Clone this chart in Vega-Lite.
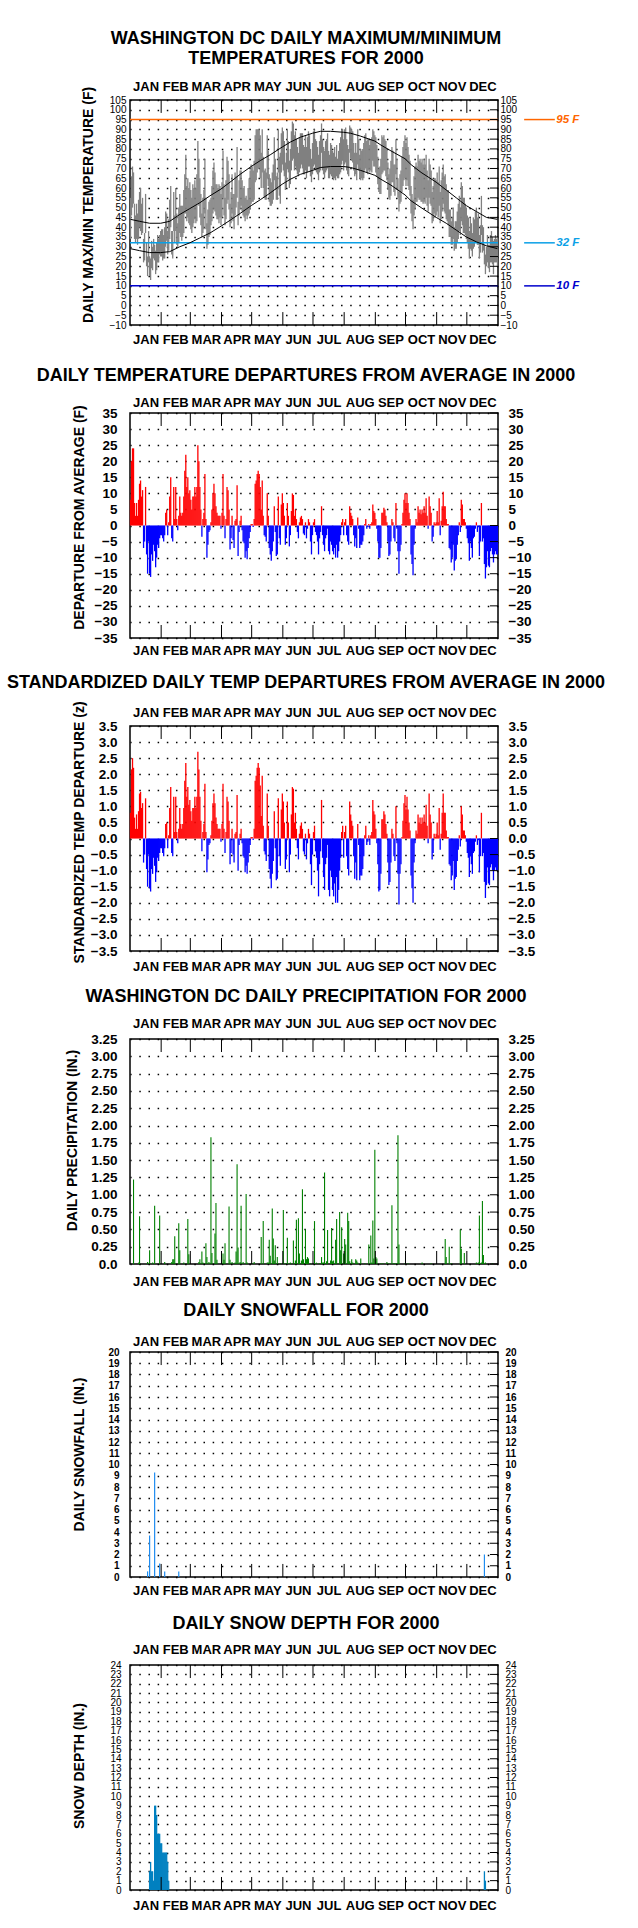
{
"$schema": "https://vega.github.io/schema/vega-lite/v6.json",
"background": "white",
"autosize": {"type": "pad"},
"padding": {"left": 5, "top": 29, "right": 0, "bottom": 0},
"config": {
  "view": {"stroke": "black", "strokeWidth": 1.5},
  "axis": {"ticks": false, "tickSize": 0, "domain": false, "labelFlush": false, "labelOverlap": false, "labelBound": false, "labelColor": "black", "titleColor": "black", "grid": false},
  "title": {"font": "Liberation Sans", "fontSize": 18, "fontWeight": "bold", "color": "black", "anchor": "middle", "frame": "group", "dx": -8}
},
"datasets": {
"m": [{"b":31.5},{"b":60.5},{"b":91.5},{"b":121.5},{"b":152.5},{"b":182.5},{"b":213.5},{"b":244.5},{"b":274.5},{"b":305.5},{"b":335.5}],
"ref": [{"v":95,"lab":"95 F"},{"v":32,"lab":"32 F"},{"v":10,"lab":"10 F"}],
"y1": [{"v":-10},{"v":-5},{"v":0},{"v":5},{"v":10},{"v":15},{"v":20},{"v":25},{"v":30},{"v":35},{"v":40},{"v":45},{"v":50},{"v":55},{"v":60},{"v":65},{"v":70},{"v":75},{"v":80},{"v":85},{"v":90},{"v":95},{"v":100},{"v":105}],
"y2": [{"v":-35},{"v":-30},{"v":-25},{"v":-20},{"v":-15},{"v":-10},{"v":-5},{"v":0},{"v":5},{"v":10},{"v":15},{"v":20},{"v":25},{"v":30},{"v":35}],
"y3": [{"v":-3.5},{"v":-3},{"v":-2.5},{"v":-2},{"v":-1.5},{"v":-1},{"v":-0.5},{"v":0},{"v":0.5},{"v":1},{"v":1.5},{"v":2},{"v":2.5},{"v":3},{"v":3.5}],
"y4": [{"v":0},{"v":0.25},{"v":0.5},{"v":0.75},{"v":1},{"v":1.25},{"v":1.5},{"v":1.75},{"v":2},{"v":2.25},{"v":2.5},{"v":2.75},{"v":3},{"v":3.25}],
"y5": [{"v":0},{"v":1},{"v":2},{"v":3},{"v":4},{"v":5},{"v":6},{"v":7},{"v":8},{"v":9},{"v":10},{"v":11},{"v":12},{"v":13},{"v":14},{"v":15},{"v":16},{"v":17},{"v":18},{"v":19},{"v":20}],
"y6": [{"v":0},{"v":1},{"v":2},{"v":3},{"v":4},{"v":5},{"v":6},{"v":7},{"v":8},{"v":9},{"v":10},{"v":11},{"v":12},{"v":13},{"v":14},{"v":15},{"v":16},{"v":17},{"v":18},{"v":19},{"v":20},{"v":21},{"v":22},{"v":23},{"v":24}],
"n": [{"d":1,"nh":44,"nl":29},{"d":10,"nh":43,"nl":28},{"d":20,"nh":42,"nl":27},{"d":31,"nh":42,"nl":27},{"d":40,"nh":43,"nl":27.5},{"d":50,"nh":46.5,"nl":30},{"d":60,"nh":49.5,"nl":32},{"d":70,"nh":52.5,"nl":34.5},{"d":80,"nh":56,"nl":37},{"d":91,"nh":59.5,"nl":40.5},{"d":100,"nh":63,"nl":43.5},{"d":110,"nh":67,"nl":47},{"d":121,"nh":71,"nl":51},{"d":130,"nh":74,"nl":54},{"d":140,"nh":77,"nl":57.5},{"d":152,"nh":81,"nl":62},{"d":160,"nh":83.5,"nl":64.5},{"d":170,"nh":86,"nl":67},{"d":182,"nh":88,"nl":69},{"d":190,"nh":89,"nl":70.5},{"d":200,"nh":89,"nl":71},{"d":213,"nh":88.5,"nl":71},{"d":220,"nh":88,"nl":70.5},{"d":230,"nh":86.5,"nl":69},{"d":244,"nh":84,"nl":66.5},{"d":250,"nh":82,"nl":64.5},{"d":260,"nh":79,"nl":61.5},{"d":274,"nh":75,"nl":56.5},{"d":280,"nh":72,"nl":53.5},{"d":290,"nh":68,"nl":50},{"d":305,"nh":63,"nl":45},{"d":315,"nh":59,"nl":42},{"d":325,"nh":55,"nl":38.5},{"d":335,"nh":51,"nl":35},{"d":345,"nh":48,"nl":32.5},{"d":355,"nh":45,"nl":30.5},{"d":366,"nh":44,"nl":29}],
"t": [
{"d":1,"h":55,"l":34,"dp":8,"z":0.8},{"d":2,"h":66,"l":46,"dp":20,"z":2.15},{"d":3,"h":71,"l":50,"dp":24,"z":2.5},{"d":4,"h":68,"l":52,"dp":24,"z":2.2},{"d":5,"h":52,"l":34,"dp":7,"z":0.65},{"d":6,"h":46,"l":32,"dp":3,"z":0.3},{"d":7,"h":52,"l":34,"dp":7,"z":0.75},{"d":8,"h":47,"l":31,"dp":3,"z":0.3},{"d":9,"h":54,"l":34,"dp":8,"z":0.85},{"d":10,"h":58,"l":40,"dp":13,"z":1.4},
{"d":11,"h":60,"l":38,"dp":14,"z":1.45},{"d":12,"h":52,"l":36,"dp":9,"z":0.95},{"d":13,"h":55,"l":37,"dp":11,"z":1.1},{"d":14,"h":34,"l":22,"dp":-7,"z":-0.75},{"d":15,"h":37,"l":23,"dp":-5,"z":-0.5},{"d":16,"h":57,"l":37,"dp":12,"z":1.25},{"d":17,"h":32,"l":20,"dp":-9,"z":-0.95},{"d":18,"h":25,"l":15,"dp":-15,"z":-1.5},{"d":19,"h":38,"l":22,"dp":-5,"z":-0.5},{"d":20,"h":25,"l":15,"dp":-15,"z":-1.55},
{"d":21,"h":24,"l":13,"dp":-16,"z":-1.65},{"d":22,"h":33,"l":19,"dp":-9,"z":-0.95},{"d":23,"h":30,"l":18,"dp":-11,"z":-1.1},{"d":24,"h":34,"l":24,"dp":-6,"z":-0.6},{"d":25,"h":31,"l":23,"dp":-8,"z":-0.85},{"d":26,"h":28,"l":16,"dp":-13,"z":-1.35},{"d":27,"h":32,"l":18,"dp":-10,"z":-1.05},{"d":28,"h":36,"l":22,"dp":-6,"z":-0.6},{"d":29,"h":34,"l":22,"dp":-7,"z":-0.7},{"d":30,"h":36,"l":26,"dp":-4,"z":-0.45},
{"d":31,"h":38,"l":25,"dp":-3,"z":-0.3},{"d":32,"h":39,"l":25,"dp":-3,"z":-0.3},{"d":33,"h":39,"l":23,"dp":-4,"z":-0.45},{"d":34,"h":36,"l":24,"dp":-5,"z":-0.55},{"d":35,"h":40,"l":24,"dp":-3,"z":-0.3},{"d":36,"h":48,"l":30,"dp":4,"z":0.45},{"d":37,"h":47,"l":33,"dp":5,"z":0.5},{"d":38,"h":38,"l":26,"dp":-3,"z":-0.3},{"d":39,"h":44,"l":28,"dp":1,"z":0.1},{"d":40,"h":54,"l":34,"dp":9,"z":0.95},
{"d":41,"h":61,"l":40,"dp":15,"z":1.6},{"d":42,"h":38,"l":26,"dp":-4,"z":-0.45},{"d":43,"h":38,"l":24,"dp":-5,"z":-0.55},{"d":44,"h":58,"l":38,"dp":12,"z":1.3},{"d":45,"h":46,"l":32,"dp":2,"z":0.2},{"d":46,"h":60,"l":38,"dp":12,"z":1.3},{"d":47,"h":47,"l":31,"dp":2,"z":0.2},{"d":48,"h":42,"l":30,"dp":-1.5,"z":-0.15},{"d":49,"h":50,"l":32,"dp":3,"z":0.3},{"d":50,"h":57,"l":37,"dp":9,"z":0.95},
{"d":51,"h":51,"l":35,"dp":4,"z":0.45},{"d":52,"h":51,"l":33,"dp":3,"z":0.3},{"d":53,"h":51,"l":35,"dp":4,"z":0.45},{"d":54,"h":59,"l":37,"dp":9,"z":0.95},{"d":55,"h":67,"l":47,"dp":17,"z":1.8},{"d":56,"h":77,"l":47,"dp":22,"z":2.35},{"d":57,"h":61,"l":43,"dp":12,"z":1.3},{"d":58,"h":65,"l":45,"dp":15,"z":1.6},{"d":59,"h":60,"l":42,"dp":10,"z":1.05},{"d":60,"h":63,"l":41,"dp":11,"z":1.2},
{"d":61,"h":59,"l":39,"dp":8,"z":0.85},{"d":62,"h":55,"l":37,"dp":5,"z":0.55},{"d":63,"h":62,"l":40,"dp":9,"z":0.95},{"d":64,"h":60,"l":42,"dp":9,"z":0.95},{"d":65,"h":64,"l":44,"dp":12,"z":1.3},{"d":66,"h":60,"l":42,"dp":9,"z":0.95},{"d":67,"h":67,"l":43,"dp":12,"z":1.3},{"d":68,"h":84,"l":52,"dp":25,"z":2.7},{"d":69,"h":75,"l":51,"dp":20,"z":2.15},{"d":70,"h":65,"l":45,"dp":12,"z":1.3},
{"d":71,"h":57,"l":41,"dp":5,"z":0.55},{"d":72,"h":47,"l":35,"dp":-3.5,"z":-0.4},{"d":73,"h":55,"l":37,"dp":2,"z":0.2},{"d":74,"h":59,"l":39,"dp":4,"z":0.45},{"d":75,"h":75,"l":47,"dp":16,"z":1.7},{"d":76,"h":55,"l":39,"dp":2,"z":0.2},{"d":77,"h":42,"l":29,"dp":-10,"z":-1.05},{"d":78,"h":49,"l":31,"dp":-6,"z":-0.65},{"d":79,"h":53,"l":35,"dp":-2,"z":-0.2},{"d":80,"h":54,"l":36,"dp":-1.5,"z":-0.15},
{"d":81,"h":55,"l":41,"dp":1,"z":0.1},{"d":82,"h":61,"l":43,"dp":5,"z":0.55},{"d":83,"h":69,"l":47,"dp":10,"z":1.1},{"d":84,"h":73,"l":49,"dp":13,"z":1.4},{"d":85,"h":68,"l":48,"dp":10,"z":1.1},{"d":86,"h":62,"l":46,"dp":6,"z":0.65},{"d":87,"h":62,"l":44,"dp":4,"z":0.45},{"d":88,"h":60,"l":44,"dp":3,"z":0.3},{"d":89,"h":62,"l":42,"dp":3,"z":0.3},{"d":90,"h":61,"l":45,"dp":3,"z":0.3},
{"d":91,"h":57,"l":41,"dp":-1,"z":-0.1},{"d":92,"h":63,"l":45,"dp":4,"z":0.45},{"d":93,"h":79,"l":55,"dp":16,"z":1.7},{"d":94,"h":62,"l":46,"dp":3,"z":0.3},{"d":95,"h":55,"l":41,"dp":-4,"z":-0.45},{"d":96,"h":64,"l":44,"dp":2,"z":0.2},{"d":97,"h":76,"l":52,"dp":12,"z":1.3},{"d":98,"h":74,"l":54,"dp":11,"z":1.15},{"d":99,"h":67,"l":49,"dp":5,"z":0.55},{"d":100,"h":52,"l":40,"dp":-7.5,"z":-0.8},
{"d":101,"h":58,"l":42,"dp":-4,"z":-0.45},{"d":102,"h":67,"l":47,"dp":3,"z":0.3},{"d":103,"h":57,"l":43,"dp":-4.5,"z":-0.5},{"d":104,"h":57,"l":39,"dp":-7,"z":-0.75},{"d":105,"h":68,"l":46,"dp":1.5,"z":0.15},{"d":106,"h":66,"l":50,"dp":2,"z":0.2},{"d":107,"h":81,"l":55,"dp":12.5,"z":1.35},{"d":108,"h":53,"l":41,"dp":-9.5,"z":-1.0},{"d":109,"h":64,"l":46,"dp":-2,"z":-0.2},{"d":110,"h":69,"l":49,"dp":1.5,"z":0.15},
{"d":111,"h":69,"l":51,"dp":3,"z":0.3},{"d":112,"h":64,"l":48,"dp":-1.5,"z":-0.15},{"d":113,"h":60,"l":46,"dp":-5,"z":-0.55},{"d":114,"h":61,"l":45,"dp":-5.5,"z":-0.6},{"d":115,"h":55,"l":43,"dp":-10,"z":-1.05},{"d":116,"h":56,"l":46,"dp":-8,"z":-0.85},{"d":117,"h":54,"l":44,"dp":-10.5,"z":-1.1},{"d":118,"h":60,"l":46,"dp":-7,"z":-0.75},{"d":119,"h":65,"l":47,"dp":-4,"z":-0.45},{"d":120,"h":69,"l":49,"dp":-2,"z":-0.2},
{"d":121,"h":72,"l":52,"dp":0.5,"z":0.05},{"d":122,"h":71,"l":53,"dp":0.5,"z":0.05},{"d":123,"h":69,"l":53,"dp":-0.5,"z":-0.05},{"d":124,"h":74,"l":54,"dp":2,"z":0.3},{"d":125,"h":87,"l":63,"dp":13,"z":1.8},{"d":126,"h":90,"l":64,"dp":14,"z":1.95},{"d":127,"h":90,"l":68,"dp":16,"z":2.2},{"d":128,"h":90,"l":70,"dp":17,"z":2.35},{"d":129,"h":90,"l":70,"dp":16,"z":2.2},{"d":130,"h":87,"l":65,"dp":12,"z":1.65},
{"d":131,"h":78,"l":60,"dp":5,"z":0.7},{"d":132,"h":90,"l":68,"dp":14,"z":1.95},{"d":133,"h":76,"l":60,"dp":3,"z":0.4},{"d":134,"h":69,"l":55,"dp":-3,"z":-0.4},{"d":135,"h":70,"l":54,"dp":-3.5,"z":-0.5},{"d":136,"h":68,"l":54,"dp":-5,"z":-0.7},{"d":137,"h":87,"l":65,"dp":10,"z":1.4},{"d":138,"h":79,"l":61,"dp":3,"z":0.4},{"d":139,"h":67,"l":53,"dp":-7,"z":-0.95},{"d":140,"h":65,"l":51,"dp":-9,"z":-1.25},
{"d":141,"h":63,"l":51,"dp":-11,"z":-1.55},{"d":142,"h":68,"l":52,"dp":-8,"z":-1.1},{"d":143,"h":72,"l":54,"dp":-5,"z":-0.7},{"d":144,"h":86,"l":64,"dp":6,"z":0.85},{"d":145,"h":75,"l":59,"dp":-2,"z":-0.3},{"d":146,"h":66,"l":54,"dp":-9.5,"z":-1.3},{"d":147,"h":68,"l":54,"dp":-9,"z":-1.25},{"d":148,"h":90,"l":68,"dp":9,"z":1.25},{"d":149,"h":76,"l":56,"dp":-4,"z":-0.55},{"d":150,"h":78,"l":52,"dp":-6,"z":-0.85},
{"d":151,"h":88,"l":68,"dp":6.5,"z":0.9},{"d":152,"h":91,"l":72,"dp":10,"z":1.4},{"d":153,"h":89,"l":69,"dp":7,"z":1.15},{"d":154,"h":84,"l":66,"dp":3,"z":0.5},{"d":155,"h":73,"l":59,"dp":-6,"z":-0.95},{"d":156,"h":78,"l":60,"dp":-4,"z":-0.65},{"d":157,"h":90,"l":70,"dp":7,"z":1.15},{"d":158,"h":84,"l":68,"dp":3,"z":0.5},{"d":159,"h":74,"l":60,"dp":-6.5,"z":-1.05},{"d":160,"h":80,"l":62,"dp":-3,"z":-0.5},
{"d":161,"h":89,"l":69,"dp":4.5,"z":0.75},{"d":162,"h":94,"l":74,"dp":10,"z":1.6},{"d":163,"h":93,"l":75,"dp":9.5,"z":1.55},{"d":164,"h":87,"l":69,"dp":3,"z":0.5},{"d":165,"h":89,"l":71,"dp":5,"z":0.8},{"d":166,"h":85,"l":69,"dp":2,"z":0.3},{"d":167,"h":81,"l":67,"dp":-2,"z":-0.3},{"d":168,"h":78,"l":66,"dp":-4,"z":-0.65},{"d":169,"h":86,"l":68,"dp":1,"z":0.15},{"d":170,"h":88,"l":70,"dp":2.5,"z":0.4},
{"d":171,"h":88,"l":72,"dp":3,"z":0.5},{"d":172,"h":88,"l":70,"dp":2,"z":0.3},{"d":173,"h":82,"l":67,"dp":-2.5,"z":-0.4},{"d":174,"h":81,"l":67,"dp":-3,"z":-0.5},{"d":175,"h":87,"l":69,"dp":1,"z":0.15},{"d":176,"h":81,"l":65,"dp":-4,"z":-0.65},{"d":177,"h":86,"l":68,"dp":-1,"z":-0.15},{"d":178,"h":89,"l":71,"dp":2,"z":0.3},{"d":179,"h":87,"l":71,"dp":1,"z":0.15},{"d":180,"h":80,"l":66,"dp":-5,"z":-0.8},
{"d":181,"h":75,"l":63,"dp":-9,"z":-1.45},{"d":182,"h":83,"l":67,"dp":-3,"z":-0.5},{"d":183,"h":89,"l":71,"dp":1,"z":0.2},{"d":184,"h":90,"l":72,"dp":2,"z":0.4},{"d":185,"h":85,"l":69,"dp":-2,"z":-0.4},{"d":186,"h":84,"l":68,"dp":-3,"z":-0.6},{"d":187,"h":81,"l":67,"dp":-5,"z":-1.0},{"d":188,"h":77,"l":64,"dp":-9,"z":-1.8},{"d":189,"h":84,"l":68,"dp":-4,"z":-0.8},{"d":190,"h":87,"l":69,"dp":-2,"z":-0.4},
{"d":191,"h":93,"l":78,"dp":6,"z":1.2},{"d":192,"h":85,"l":69,"dp":-3,"z":-0.6},{"d":193,"h":81,"l":67,"dp":-6,"z":-1.2},{"d":194,"h":79,"l":65,"dp":-8,"z":-1.6},{"d":195,"h":84,"l":68,"dp":-4,"z":-0.8},{"d":196,"h":85,"l":69,"dp":-3,"z":-0.6},{"d":197,"h":88,"l":70,"dp":-1,"z":-0.2},{"d":198,"h":79,"l":65,"dp":-8,"z":-1.6},{"d":199,"h":77,"l":65,"dp":-9,"z":-1.8},{"d":200,"h":83,"l":67,"dp":-5,"z":-1.0},
{"d":201,"h":82,"l":66,"dp":-6,"z":-1.2},{"d":202,"h":79,"l":65,"dp":-8,"z":-1.6},{"d":203,"h":78,"l":64,"dp":-9,"z":-1.8},{"d":204,"h":81,"l":65,"dp":-7,"z":-1.4},{"d":205,"h":76,"l":64,"dp":-10,"z":-2.0},{"d":206,"h":82,"l":66,"dp":-6,"z":-1.2},{"d":207,"h":75,"l":65,"dp":-10,"z":-2.0},{"d":208,"h":79,"l":65,"dp":-8,"z":-1.6},{"d":209,"h":83,"l":67,"dp":-5,"z":-1.0},{"d":210,"h":86,"l":68,"dp":-3,"z":-0.6},
{"d":211,"h":90,"l":72,"dp":1,"z":0.2},{"d":212,"h":90,"l":74,"dp":2,"z":0.4},{"d":213,"h":85,"l":69,"dp":-3,"z":-0.6},{"d":214,"h":90,"l":72,"dp":1,"z":0.2},{"d":215,"h":91,"l":73,"dp":2,"z":0.4},{"d":216,"h":85,"l":69,"dp":-3,"z":-0.55},{"d":217,"h":82,"l":67,"dp":-5,"z":-0.95},{"d":218,"h":80,"l":66,"dp":-6,"z":-1.15},{"d":219,"h":92,"l":78,"dp":6,"z":1.15},{"d":220,"h":91,"l":75,"dp":4,"z":0.75},
{"d":221,"h":90,"l":74,"dp":3,"z":0.55},{"d":222,"h":89,"l":73,"dp":2,"z":0.4},{"d":223,"h":83,"l":69,"dp":-3,"z":-0.55},{"d":224,"h":78,"l":66,"dp":-6.5,"z":-1.25},{"d":225,"h":83,"l":67,"dp":-4,"z":-0.75},{"d":226,"h":78,"l":64,"dp":-7,"z":-1.3},{"d":227,"h":90,"l":72,"dp":2.5,"z":0.45},{"d":228,"h":85,"l":69,"dp":-1,"z":-0.2},{"d":229,"h":77,"l":65,"dp":-7,"z":-1.3},{"d":230,"h":80,"l":64,"dp":-6,"z":-1.15},
{"d":231,"h":79,"l":65,"dp":-6,"z":-1.15},{"d":232,"h":80,"l":64,"dp":-5,"z":-0.95},{"d":233,"h":83,"l":65,"dp":-3,"z":-0.55},{"d":234,"h":87,"l":69,"dp":0.5,"z":0.1},{"d":235,"h":88,"l":70,"dp":2,"z":0.4},{"d":236,"h":84,"l":68,"dp":-1,"z":-0.2},{"d":237,"h":85,"l":67,"dp":-0.5,"z":-0.1},{"d":238,"h":85,"l":69,"dp":0.5,"z":0.1},{"d":239,"h":82,"l":68,"dp":-1,"z":-0.2},{"d":240,"h":85,"l":69,"dp":0.5,"z":0.1},
{"d":241,"h":86,"l":68,"dp":1,"z":0.2},{"d":242,"h":90,"l":74,"dp":6.5,"z":1.2},{"d":243,"h":89,"l":71,"dp":4.5,"z":0.85},{"d":244,"h":87,"l":71,"dp":4,"z":0.75},{"d":245,"h":86,"l":68,"dp":2,"z":0.3},{"d":246,"h":82,"l":66,"dp":-1,"z":-0.15},{"d":247,"h":76,"l":62,"dp":-5,"z":-0.8},{"d":248,"h":70,"l":58,"dp":-10,"z":-1.65},{"d":249,"h":71,"l":57,"dp":-10,"z":-1.6},{"d":250,"h":75,"l":57,"dp":-7,"z":-1.1},
{"d":251,"h":87,"l":67,"dp":4,"z":0.6},{"d":252,"h":86,"l":68,"dp":4,"z":0.6},{"d":253,"h":87,"l":69,"dp":5.5,"z":0.85},{"d":254,"h":85,"l":69,"dp":5,"z":0.75},{"d":255,"h":84,"l":66,"dp":3,"z":0.45},{"d":256,"h":80,"l":64,"dp":1,"z":0.15},{"d":257,"h":73,"l":59,"dp":-5,"z":-0.75},{"d":258,"h":67,"l":55,"dp":-9.5,"z":-1.45},{"d":259,"h":70,"l":54,"dp":-9,"z":-1.35},{"d":260,"h":74,"l":56,"dp":-5,"z":-0.75},
{"d":261,"h":81,"l":63,"dp":2,"z":0.3},{"d":262,"h":79,"l":63,"dp":1,"z":0.15},{"d":263,"h":72,"l":58,"dp":-4,"z":-0.55},{"d":264,"h":72,"l":56,"dp":-5,"z":-0.7},{"d":265,"h":85,"l":67,"dp":7,"z":1.0},{"d":266,"h":75,"l":59,"dp":-1,"z":-0.15},{"d":267,"h":65,"l":55,"dp":-8,"z":-1.1},{"d":268,"h":58,"l":48,"dp":-15,"z":-2.05},{"d":269,"h":67,"l":52,"dp":-8,"z":-1.1},{"d":270,"h":69,"l":53,"dp":-6,"z":-0.8},
{"d":271,"h":76,"l":58,"dp":0.5,"z":0.05},{"d":272,"h":81,"l":61,"dp":4,"z":0.55},{"d":273,"h":84,"l":64,"dp":8,"z":1.1},{"d":274,"h":87,"l":65,"dp":10,"z":1.35},{"d":275,"h":83,"l":61,"dp":7,"z":0.9},{"d":276,"h":86,"l":64,"dp":10,"z":1.3},{"d":277,"h":81,"l":61,"dp":7,"z":0.9},{"d":278,"h":77,"l":59,"dp":4,"z":0.5},{"d":279,"h":74,"l":56,"dp":2,"z":0.25},{"d":280,"h":61,"l":47,"dp":-9,"z":-1.15},
{"d":281,"h":57,"l":43,"dp":-12,"z":-1.55},{"d":282,"h":54,"l":39,"dp":-15.5,"z":-2.0},{"d":283,"h":66,"l":46,"dp":-6,"z":-0.75},{"d":284,"h":71,"l":49,"dp":-1,"z":-0.15},{"d":285,"h":73,"l":53,"dp":2,"z":0.25},{"d":286,"h":71,"l":53,"dp":1,"z":0.15},{"d":287,"h":77,"l":55,"dp":6,"z":0.75},{"d":288,"h":74,"l":54,"dp":4,"z":0.5},{"d":289,"h":75,"l":54,"dp":5,"z":0.65},{"d":290,"h":73,"l":53,"dp":3.5,"z":0.45},
{"d":291,"h":75,"l":53,"dp":5,"z":0.65},{"d":292,"h":72,"l":52,"dp":4,"z":0.5},{"d":293,"h":75,"l":53,"dp":6,"z":0.75},{"d":294,"h":72,"l":52,"dp":4,"z":0.5},{"d":295,"h":77,"l":55,"dp":8.5,"z":1.05},{"d":296,"h":69,"l":51,"dp":3,"z":0.4},{"d":297,"h":64,"l":48,"dp":-1,"z":-0.15},{"d":298,"h":75,"l":55,"dp":9,"z":1.4},{"d":299,"h":72,"l":52,"dp":6,"z":0.75},{"d":300,"h":69,"l":51,"dp":4,"z":0.5},
{"d":301,"h":58,"l":42,"dp":-5,"z":-0.65},{"d":302,"h":61,"l":43,"dp":-3.5,"z":-0.45},{"d":303,"h":65,"l":47,"dp":1,"z":0.15},{"d":304,"h":65,"l":45,"dp":0.5,"z":0.05},{"d":305,"h":64,"l":46,"dp":1,"z":0.15},{"d":306,"h":68,"l":48,"dp":4.5,"z":0.5},{"d":307,"h":63,"l":45,"dp":1,"z":0.1},{"d":308,"h":71,"l":51,"dp":8.5,"z":0.95},{"d":309,"h":58,"l":42,"dp":-3,"z":-0.35},{"d":310,"h":64,"l":44,"dp":1.5,"z":0.15},
{"d":311,"h":68,"l":48,"dp":6,"z":0.8},{"d":312,"h":72,"l":52,"dp":10.5,"z":1.4},{"d":313,"h":66,"l":48,"dp":6,"z":0.8},{"d":314,"h":67,"l":47,"dp":6,"z":0.8},{"d":315,"h":62,"l":44,"dp":2,"z":0.25},{"d":316,"h":59,"l":43,"dp":0.5,"z":0.05},{"d":317,"h":59,"l":41,"dp":0.5,"z":0.05},{"d":318,"h":49,"l":35,"dp":-7,"z":-0.8},{"d":319,"h":49,"l":35,"dp":-7.5,"z":-0.85},{"d":320,"h":43,"l":31,"dp":-11.5,"z":-1.3},
{"d":321,"h":45,"l":31,"dp":-10,"z":-1.15},{"d":322,"h":50,"l":34,"dp":-6,"z":-0.7},{"d":323,"h":40,"l":28,"dp":-14,"z":-1.6},{"d":324,"h":43,"l":29,"dp":-11,"z":-1.25},{"d":325,"h":43,"l":29,"dp":-10.5,"z":-1.2},{"d":326,"h":48,"l":32,"dp":-6,"z":-0.7},{"d":327,"h":52,"l":34,"dp":-3,"z":-0.35},{"d":328,"h":56,"l":38,"dp":1,"z":0.1},{"d":329,"h":50,"l":36,"dp":-2,"z":-0.25},{"d":330,"h":63,"l":43,"dp":8,"z":1.0},
{"d":331,"h":61,"l":41,"dp":6.5,"z":0.75},{"d":332,"h":55,"l":37,"dp":2,"z":0.25},{"d":333,"h":55,"l":37,"dp":2,"z":0.25},{"d":334,"h":52,"l":36,"dp":1,"z":0.1},{"d":335,"h":50,"l":34,"dp":-1,"z":-0.1},{"d":336,"h":46,"l":32,"dp":-4,"z":-0.45},{"d":337,"h":45,"l":29,"dp":-5.5,"z":-0.6},{"d":338,"h":38,"l":24,"dp":-11,"z":-1.2},{"d":339,"h":45,"l":29,"dp":-5,"z":-0.55},{"d":340,"h":42,"l":28,"dp":-7,"z":-0.8},
{"d":341,"h":37,"l":25,"dp":-10,"z":-1.1},{"d":342,"h":45,"l":29,"dp":-4,"z":-0.45},{"d":343,"h":44,"l":30,"dp":-3.5,"z":-0.4},{"d":344,"h":48,"l":32,"dp":-1,"z":-0.1},{"d":345,"h":50,"l":32,"dp":1,"z":0.1},{"d":346,"h":45,"l":31,"dp":-2,"z":-0.2},{"d":347,"h":47,"l":31,"dp":-0.5,"z":-0.05},{"d":348,"h":36,"l":24,"dp":-9.5,"z":-1.05},{"d":349,"h":41,"l":27,"dp":-5,"z":-0.55},{"d":350,"h":56,"l":36,"dp":7,"z":0.8},
{"d":351,"h":41,"l":27,"dp":-5,"z":-0.55},{"d":352,"h":40,"l":28,"dp":-4,"z":-0.45},{"d":353,"h":31,"l":21,"dp":-12,"z":-1.35},{"d":354,"h":26,"l":16,"dp":-16.5,"z":-1.85},{"d":355,"h":30,"l":20,"dp":-13,"z":-1.45},{"d":356,"h":36,"l":22,"dp":-8,"z":-0.9},{"d":357,"h":31,"l":19,"dp":-12.5,"z":-1.4},{"d":358,"h":31,"l":17,"dp":-13,"z":-1.45},{"d":359,"h":36,"l":22,"dp":-8,"z":-0.9},{"d":360,"h":38,"l":22,"dp":-7,"z":-0.8},
{"d":361,"h":35,"l":21,"dp":-9,"z":-1.0},{"d":362,"h":33,"l":16,"dp":-11.5,"z":-1.3},{"d":363,"h":34,"l":22,"dp":-9,"z":-1.0},{"d":364,"h":36,"l":22,"dp":-8,"z":-0.9},{"d":365,"h":34,"l":22,"dp":-9,"z":-1.0},{"d":366,"h":35,"l":20,"dp":-9,"z":-1.0}
],
"p": [{"d":4,"v":1.22},{"d":9,"v":0.02},{"d":10,"v":0.69},{"d":18,"v":0.03},{"d":20,"v":0.2},{"d":23,"v":0.02},{"d":25,"v":0.84},{"d":30,"v":0.7},{"d":35,"v":0.03},{"d":42,"v":0.03},{"d":43,"v":0.07},{"d":44,"v":0.07},{"d":45,"v":0.4},{"d":49,"v":0.59},{"d":50,"v":0.2},{"d":54,"v":0.02},{"d":58,"v":0.65},{"d":59,"v":0.14},{"d":69,"v":0.03},{"d":70,"v":0.07},{"d":72,"v":0.18},{"d":73,"v":0.02},{"d":76,"v":0.3},{"d":77,"v":0.1},{"d":79,"v":0.03},{"d":81,"v":1.83},{"d":82,"v":0.16},{"d":85,"v":0.44},{"d":86,"v":0.88},{"d":87,"v":0.06},{"d":93,"v":0.15},{"d":94,"v":0.06},{"d":95,"v":0.3},{"d":99,"v":0.83},{"d":100,"v":0.06},{"d":102,"v":0.03},{"d":105,"v":0.02},{"d":106,"v":0.18},{"d":107,"v":1.44},{"d":108,"v":0.24},{"d":110,"v":0.03},{"d":111,"v":0.84},{"d":113,"v":0.03},{"d":116,"v":1.01},{"d":117,"v":0.02},{"d":122,"v":0.01},{"d":124,"v":0.03},{"d":131,"v":0.39},{"d":133,"v":0.62},{"d":137,"v":0.02},{"d":138,"v":0.02},{"d":139,"v":0.35},{"d":140,"v":0.12},{"d":142,"v":0.8},{"d":143,"v":0.37},{"d":144,"v":0.05},{"d":145,"v":0.27},{"d":147,"v":0.1},{"d":150,"v":0.01},{"d":153,"v":0.78},{"d":155,"v":0.01},{"d":157,"v":0.38},{"d":159,"v":0.01},{"d":160,"v":0.02},{"d":163,"v":0.34},{"d":165,"v":0.05},{"d":166,"v":0.64},{"d":168,"v":0.66},{"d":169,"v":0.15},{"d":171,"v":0.05},{"d":172,"v":1.08},{"d":173,"v":0.07},{"d":175,"v":0.5},{"d":176,"v":0.07},{"d":177,"v":0.1},{"d":178,"v":0.08},{"d":180,"v":0.01},{"d":184,"v":0.62},{"d":186,"v":0.02},{"d":189,"v":0.01},{"d":191,"v":0.1},{"d":192,"v":0.02},{"d":193,"v":0.02},{"d":194,"v":1.32},{"d":196,"v":0.04},{"d":197,"v":0.49},{"d":200,"v":0.05},{"d":201,"v":0.52},{"d":202,"v":0.04},{"d":203,"v":0.05},{"d":205,"v":0.35},{"d":206,"v":0.65},{"d":209,"v":0.75},{"d":210,"v":0.2},{"d":211,"v":0.53},{"d":213,"v":0.15},{"d":214,"v":0.36},{"d":215,"v":0.28},{"d":217,"v":0.74},{"d":218,"v":0.62},{"d":219,"v":0.04},{"d":221,"v":0.07},{"d":222,"v":0.02},{"d":225,"v":0.07},{"d":226,"v":0.05},{"d":227,"v":0.02},{"d":230,"v":0.08},{"d":234,"v":0.01},{"d":238,"v":0.28},{"d":240,"v":0.41},{"d":241,"v":0.02},{"d":242,"v":0.63},{"d":243,"v":0.08},{"d":244,"v":1.65},{"d":245,"v":0.1},{"d":246,"v":0.08},{"d":250,"v":0.01},{"d":252,"v":0.01},{"d":256,"v":0.03},{"d":258,"v":0.01},{"d":261,"v":0.85},{"d":263,"v":0.01},{"d":264,"v":0.01},{"d":266,"v":0.01},{"d":267,"v":1.86},{"d":268,"v":0.28},{"d":274,"v":0.01},{"d":277,"v":0.01},{"d":291,"v":0.02},{"d":300,"v":0.01},{"d":314,"v":0.36},{"d":315,"v":0.1},{"d":318,"v":0.25},{"d":320,"v":0.01},{"d":329,"v":0.5},{"d":330,"v":0.22},{"d":333,"v":0.16},{"d":345,"v":0.02},{"d":347,"v":0.02},{"d":348,"v":0.7},{"d":350,"v":0.02},{"d":351,"v":0.91},{"d":352,"v":0.13},{"d":354,"v":0.02},{"d":361,"v":0.01}],
"sf": [{"d":18,"v":0.5},{"d":20,"v":3.7},{"d":25,"v":9.3},{"d":30,"v":1.2},{"d":35,"v":0.5},{"d":49,"v":0.5},{"d":353,"v":2.0}],
"sd": [{"d":20,"v":2},{"d":21,"v":3},{"d":22,"v":2},{"d":23,"v":2},{"d":24,"v":1},{"d":25,"v":9},{"d":26,"v":9},{"d":27,"v":8},{"d":28,"v":6},{"d":29,"v":6},{"d":30,"v":6},{"d":31,"v":5},{"d":32,"v":5},{"d":33,"v":4},{"d":34,"v":4},{"d":35,"v":4},{"d":36,"v":4},{"d":37,"v":4},{"d":38,"v":3},{"d":39,"v":1},{"d":353,"v":2},{"d":354,"v":1}]
},
"vconcat": [
{
 "width": 368, "height": 225,
 "title": {"text": ["WASHINGTON DC DAILY MAXIMUM/MINIMUM", "TEMPERATURES FOR 2000"], "lineHeight": 20, "offset": 12},
 "layer": [
  {"data": {"name": "t"}, "mark": {"type": "rule", "strokeWidth": 1.3, "color": "#808080"},
   "encoding": {
    "x": {"field": "d", "type": "quantitative", "scale": {"domain": [0.5, 366.5], "nice": false, "zero": false},
      "axis": {"orient": "bottom", "values": [16,45.5,76,106.5,137,167.5,198,229,259.5,290,320.5,351], "labelExpr": "datum.value<30?'JAN':datum.value<60?'FEB':datum.value<90?'MAR':datum.value<120?'APR':datum.value<150?'MAY':datum.value<180?'JUN':datum.value<210?'JUL':datum.value<240?'AUG':datum.value<270?'SEP':datum.value<300?'OCT':datum.value<330?'NOV':'DEC'", "title": null, "labelFont": "Liberation Sans Narrow, Liberation Sans", "labelFontWeight": "bold", "labelFontSize": 13, "labelPadding": 8}},
    "y": {"field": "l", "type": "quantitative", "scale": {"domain": [-10, 105], "nice": false, "zero": false},
      "axis": {"orient": "left", "values": [-10,-5,0,5,10,15,20,25,30,35,40,45,50,55,60,65,70,75,80,85,90,95,100,105], "title": "DAILY MAX/MIN TEMPERATURE (F)", "titleFont": "Liberation Sans", "titleFontSize": 14, "titleFontWeight": "bold", "titleAngle": 270, "titleX": -37.7, "titleY": 104.5, "titleAlign": "center", "titleBaseline": "alphabetic", "labelFont": "Liberation Sans", "labelFontSize": 10, "labelFontWeight": "normal", "labelPadding": 4, "grid": true, "gridColor": "black", "gridDash": [1.5, 7.67], "gridDashOffset": 0.37, "gridWidth": 1.4}},
    "y2": {"field": "h"}
   }},
  {"data": {"name": "ref"}, "mark": {"type": "rule", "strokeWidth": 1.5},
   "encoding": {
    "x": {"datum": 0.5, "type": "quantitative", "scale": {"domain": [0.5, 366.5], "nice": false, "zero": false}, "axis": null},
    "x2": {"datum": 366.5},
    "y": {"field": "v", "type": "quantitative", "scale": {"domain": [-10, 105], "nice": false, "zero": false}, "axis": null},
    "color": {"field": "lab", "type": "nominal", "scale": {"domain": ["95 F", "32 F", "10 F"], "range": ["#FF6600", "#0AA0E6", "#0000CC"]}, "legend": null}
   }},
  {"data": {"name": "ref"}, "mark": {"type": "rule", "strokeWidth": 1.5},
   "encoding": {
    "x": {"datum": 392.5, "type": "quantitative", "scale": {"domain": [0.5, 366.5], "nice": false, "zero": false}, "axis": null},
    "x2": {"datum": 423},
    "y": {"field": "v", "type": "quantitative", "scale": {"domain": [-10, 105], "nice": false, "zero": false}, "axis": null},
    "color": {"field": "lab", "type": "nominal", "legend": null}
   }},
  {"data": {"name": "ref"}, "mark": {"type": "text", "align": "left", "baseline": "middle", "font": "Liberation Sans", "fontWeight": "bold", "fontStyle": "italic", "fontSize": 11.5},
   "encoding": {
    "x": {"datum": 424.5, "type": "quantitative", "scale": {"domain": [0.5, 366.5], "nice": false, "zero": false}, "axis": null},
    "y": {"field": "v", "type": "quantitative", "scale": {"domain": [-10, 105], "nice": false, "zero": false}, "axis": null},
    "text": {"field": "lab"},
    "color": {"field": "lab", "type": "nominal", "legend": null}
   }},
  {"data": {"name": "n"}, "mark": {"type": "line", "color": "black", "strokeWidth": 1},
   "encoding": {
    "x": {"field": "d", "type": "quantitative", "scale": {"domain": [0.5, 366.5], "nice": false, "zero": false}, "axis": null},
    "y": {"field": "nh", "type": "quantitative", "scale": {"domain": [-10, 105], "nice": false, "zero": false}, "axis": null}
   }},
  {"data": {"name": "n"}, "mark": {"type": "line", "color": "black", "strokeWidth": 1},
   "encoding": {
    "x": {"field": "d", "type": "quantitative", "scale": {"domain": [0.5, 366.5], "nice": false, "zero": false}, "axis": null},
    "y": {"field": "nl", "type": "quantitative", "scale": {"domain": [-10, 105], "nice": false, "zero": false}, "axis": null}
   }},
  {"data": {"name": "y1"}, "mark": {"type": "rule", "color": "black", "strokeWidth": 1},
   "encoding": {
    "x": {"datum": 358.5, "type": "quantitative", "scale": {"domain": [0.5, 366.5], "nice": false, "zero": false}, "axis": null},
    "x2": {"datum": 366.5},
    "y": {"field": "v", "type": "quantitative", "scale": {"domain": [-10, 105], "nice": false, "zero": false}, "axis": null}
   }},
  {"data": {"name": "m"}, "mark": {"type": "rule", "color": "black", "strokeWidth": 1},
   "encoding": {
    "x": {"field": "b", "type": "quantitative", "scale": {"domain": [0.5, 366.5], "nice": false, "zero": false},
      "axis": {"orient": "top", "values": [16,45.5,76,106.5,137,167.5,198,229,259.5,290,320.5,351], "labelExpr": "datum.value<30?'JAN':datum.value<60?'FEB':datum.value<90?'MAR':datum.value<120?'APR':datum.value<150?'MAY':datum.value<180?'JUN':datum.value<210?'JUL':datum.value<240?'AUG':datum.value<270?'SEP':datum.value<300?'OCT':datum.value<330?'NOV':'DEC'", "title": null, "labelFont": "Liberation Sans Narrow, Liberation Sans", "labelFontWeight": "bold", "labelFontSize": 13, "labelPadding": 7}},
    "y": {"datum": 105, "type": "quantitative", "scale": {"domain": [-10, 105], "nice": false, "zero": false},
      "axis": {"orient": "right", "values": [-10,-5,0,5,10,15,20,25,30,35,40,45,50,55,60,65,70,75,80,85,90,95,100,105], "title": null, "labelFont": "Liberation Sans", "labelFontSize": 10, "labelFontWeight": "normal", "labelPadding": 2}},
    "y2": {"datum": 98.4}
   }},
  {"data": {"name": "m"}, "mark": {"type": "rule", "color": "black", "strokeWidth": 1},
   "encoding": {
    "x": {"field": "b", "type": "quantitative", "scale": {"domain": [0.5, 366.5], "nice": false, "zero": false}, "axis": null},
    "y": {"datum": -10, "type": "quantitative", "scale": {"domain": [-10, 105], "nice": false, "zero": false}, "axis": null},
    "y2": {"datum": -3.4}
   }}
 ],
 "resolve": {"axis": {"x": "independent", "y": "independent"}}
},
{
 "width": 368, "height": 225,
 "title": {"text": "DAILY TEMPERATURE DEPARTURES FROM AVERAGE IN 2000", "offset": 11},
 "layer": [
  {"data": {"name": "t"}, "mark": {"type": "rule", "strokeWidth": 1.3},
   "encoding": {
    "x": {"field": "d", "type": "quantitative", "scale": {"domain": [0.5, 366.5], "nice": false, "zero": false},
      "axis": {"orient": "bottom", "values": [16,45.5,76,106.5,137,167.5,198,229,259.5,290,320.5,351], "labelExpr": "datum.value<30?'JAN':datum.value<60?'FEB':datum.value<90?'MAR':datum.value<120?'APR':datum.value<150?'MAY':datum.value<180?'JUN':datum.value<210?'JUL':datum.value<240?'AUG':datum.value<270?'SEP':datum.value<300?'OCT':datum.value<330?'NOV':'DEC'", "title": null, "labelFont": "Liberation Sans Narrow, Liberation Sans", "labelFontWeight": "bold", "labelFontSize": 13, "labelPadding": 6}},
    "y": {"field": "dp", "type": "quantitative", "scale": {"domain": [-35, 35], "nice": false, "zero": false},
      "axis": {"orient": "left", "values": [-35,-30,-25,-20,-15,-10,-5,0,5,10,15,20,25,30,35], "title": "DEPARTURE FROM AVERAGE (F)", "titleFont": "Liberation Sans", "titleFontSize": 14, "titleFontWeight": "bold", "titleAngle": 270, "titleX": -47, "titleY": 104, "titleAlign": "center", "titleBaseline": "alphabetic", "labelFont": "Liberation Sans Narrow, Liberation Sans", "labelFontSize": 13.5, "labelFontWeight": "bold", "labelPadding": 13, "grid": true, "gridColor": "black", "gridDash": [1.5, 7.67], "gridDashOffset": 0.37, "gridWidth": 1.4}},
    "y2": {"datum": 0},
    "color": {"condition": {"test": "datum.dp > 0", "value": "#FF0000"}, "value": "#0000FF"}
   }},
  {"data": {"name": "y2"}, "mark": {"type": "rule", "color": "black", "strokeWidth": 1},
   "encoding": {
    "x": {"datum": 358.5, "type": "quantitative", "scale": {"domain": [0.5, 366.5], "nice": false, "zero": false}, "axis": null},
    "x2": {"datum": 366.5},
    "y": {"field": "v", "type": "quantitative", "scale": {"domain": [-35, 35], "nice": false, "zero": false}, "axis": null}
   }},
  {"data": {"name": "m"}, "mark": {"type": "rule", "color": "black", "strokeWidth": 1},
   "encoding": {
    "x": {"field": "b", "type": "quantitative", "scale": {"domain": [0.5, 366.5], "nice": false, "zero": false},
      "axis": {"orient": "top", "values": [16,45.5,76,106.5,137,167.5,198,229,259.5,290,320.5,351], "labelExpr": "datum.value<30?'JAN':datum.value<60?'FEB':datum.value<90?'MAR':datum.value<120?'APR':datum.value<150?'MAY':datum.value<180?'JUN':datum.value<210?'JUL':datum.value<240?'AUG':datum.value<270?'SEP':datum.value<300?'OCT':datum.value<330?'NOV':'DEC'", "title": null, "labelFont": "Liberation Sans Narrow, Liberation Sans", "labelFontWeight": "bold", "labelFontSize": 13, "labelPadding": 4}},
    "y": {"datum": 35, "type": "quantitative", "scale": {"domain": [-35, 35], "nice": false, "zero": false},
      "axis": {"orient": "right", "values": [-35,-30,-25,-20,-15,-10,-5,0,5,10,15,20,25,30,35], "title": null, "labelFont": "Liberation Sans Narrow, Liberation Sans", "labelFontSize": 13.5, "labelFontWeight": "bold", "labelPadding": 10}},
    "y2": {"datum": 30.96}
   }},
  {"data": {"name": "m"}, "mark": {"type": "rule", "color": "black", "strokeWidth": 1},
   "encoding": {
    "x": {"field": "b", "type": "quantitative", "scale": {"domain": [0.5, 366.5], "nice": false, "zero": false}, "axis": null},
    "y": {"datum": -35, "type": "quantitative", "scale": {"domain": [-35, 35], "nice": false, "zero": false}, "axis": null},
    "y2": {"datum": -30.96}
   }}
 ],
 "resolve": {"axis": {"x": "independent", "y": "independent"}}
},
{
 "width": 368, "height": 225,
 "title": {"text": "STANDARDIZED DAILY TEMP DEPARTURES FROM AVERAGE IN 2000", "offset": 8.5},
 "layer": [
  {"data": {"name": "t"}, "mark": {"type": "rule", "strokeWidth": 1.3},
   "encoding": {
    "x": {"field": "d", "type": "quantitative", "scale": {"domain": [0.5, 366.5], "nice": false, "zero": false},
      "axis": {"orient": "bottom", "values": [16,45.5,76,106.5,137,167.5,198,229,259.5,290,320.5,351], "labelExpr": "datum.value<30?'JAN':datum.value<60?'FEB':datum.value<90?'MAR':datum.value<120?'APR':datum.value<150?'MAY':datum.value<180?'JUN':datum.value<210?'JUL':datum.value<240?'AUG':datum.value<270?'SEP':datum.value<300?'OCT':datum.value<330?'NOV':'DEC'", "title": null, "labelFont": "Liberation Sans Narrow, Liberation Sans", "labelFontWeight": "bold", "labelFontSize": 13, "labelPadding": 9}},
    "y": {"field": "z", "type": "quantitative", "scale": {"domain": [-3.5, 3.5], "nice": false, "zero": false},
      "axis": {"orient": "left", "values": [-3.5,-3,-2.5,-2,-1.5,-1,-0.5,0,0.5,1,1.5,2,2.5,3,3.5], "format": ".1f", "title": "STANDARDIZED TEMP DEPARTURE (z)", "titleFont": "Liberation Sans", "titleFontSize": 14, "titleFontWeight": "bold", "titleAngle": 270, "titleX": -46.7, "titleY": 106, "titleAlign": "center", "titleBaseline": "alphabetic", "labelFont": "Liberation Sans Narrow, Liberation Sans", "labelFontSize": 13.5, "labelFontWeight": "bold", "labelPadding": 13, "grid": true, "gridColor": "black", "gridDash": [1.5, 7.67], "gridDashOffset": 0.37, "gridWidth": 1.4}},
    "y2": {"datum": 0},
    "color": {"condition": {"test": "datum.z > 0", "value": "#FF0000"}, "value": "#0000FF"}
   }},
  {"data": {"name": "y3"}, "mark": {"type": "rule", "color": "black", "strokeWidth": 1},
   "encoding": {
    "x": {"datum": 358.5, "type": "quantitative", "scale": {"domain": [0.5, 366.5], "nice": false, "zero": false}, "axis": null},
    "x2": {"datum": 366.5},
    "y": {"field": "v", "type": "quantitative", "scale": {"domain": [-3.5, 3.5], "nice": false, "zero": false}, "axis": null}
   }},
  {"data": {"name": "m"}, "mark": {"type": "rule", "color": "black", "strokeWidth": 1},
   "encoding": {
    "x": {"field": "b", "type": "quantitative", "scale": {"domain": [0.5, 366.5], "nice": false, "zero": false},
      "axis": {"orient": "top", "values": [16,45.5,76,106.5,137,167.5,198,229,259.5,290,320.5,351], "labelExpr": "datum.value<30?'JAN':datum.value<60?'FEB':datum.value<90?'MAR':datum.value<120?'APR':datum.value<150?'MAY':datum.value<180?'JUN':datum.value<210?'JUL':datum.value<240?'AUG':datum.value<270?'SEP':datum.value<300?'OCT':datum.value<330?'NOV':'DEC'", "title": null, "labelFont": "Liberation Sans Narrow, Liberation Sans", "labelFontWeight": "bold", "labelFontSize": 13, "labelPadding": 7}},
    "y": {"datum": 3.5, "type": "quantitative", "scale": {"domain": [-3.5, 3.5], "nice": false, "zero": false},
      "axis": {"orient": "right", "values": [-3.5,-3,-2.5,-2,-1.5,-1,-0.5,0,0.5,1,1.5,2,2.5,3,3.5], "format": ".1f", "title": null, "labelFont": "Liberation Sans Narrow, Liberation Sans", "labelFontSize": 13.5, "labelFontWeight": "bold", "labelPadding": 10}},
    "y2": {"datum": 3.096}
   }},
  {"data": {"name": "m"}, "mark": {"type": "rule", "color": "black", "strokeWidth": 1},
   "encoding": {
    "x": {"field": "b", "type": "quantitative", "scale": {"domain": [0.5, 366.5], "nice": false, "zero": false}, "axis": null},
    "y": {"datum": -3.5, "type": "quantitative", "scale": {"domain": [-3.5, 3.5], "nice": false, "zero": false}, "axis": null},
    "y2": {"datum": -3.096}
   }}
 ],
 "resolve": {"axis": {"x": "independent", "y": "independent"}}
},
{
 "width": 368, "height": 225,
 "title": {"text": "WASHINGTON DC DAILY PRECIPITATION FOR 2000", "offset": 11.4},
 "layer": [
  {"data": {"name": "p"}, "mark": {"type": "rule", "strokeWidth": 1.1, "color": "#008000"},
   "encoding": {
    "x": {"field": "d", "type": "quantitative", "scale": {"domain": [0.5, 366.5], "nice": false, "zero": false},
      "axis": {"orient": "bottom", "values": [16,45.5,76,106.5,137,167.5,198,229,259.5,290,320.5,351], "labelExpr": "datum.value<30?'JAN':datum.value<60?'FEB':datum.value<90?'MAR':datum.value<120?'APR':datum.value<150?'MAY':datum.value<180?'JUN':datum.value<210?'JUL':datum.value<240?'AUG':datum.value<270?'SEP':datum.value<300?'OCT':datum.value<330?'NOV':'DEC'", "title": null, "labelFont": "Liberation Sans Narrow, Liberation Sans", "labelFontWeight": "bold", "labelFontSize": 13, "labelPadding": 11}},
    "y": {"field": "v", "type": "quantitative", "scale": {"domain": [0, 3.25], "nice": false, "zero": false},
      "axis": {"orient": "left", "values": [0,0.25,0.5,0.75,1,1.25,1.5,1.75,2,2.25,2.5,2.75,3,3.25], "labelExpr": "datum.value == 0 ? '0.0' : format(datum.value, '.2f')", "title": "DAILY PRECIPITATION (IN.)", "titleFont": "Liberation Sans", "titleFontSize": 14, "titleFontWeight": "bold", "titleAngle": 270, "titleX": -54, "titleY": 101, "titleAlign": "center", "titleBaseline": "alphabetic", "labelFont": "Liberation Sans Narrow, Liberation Sans", "labelFontSize": 13.5, "labelFontWeight": "bold", "labelPadding": 13, "grid": true, "gridColor": "black", "gridDash": [1.5, 7.67], "gridDashOffset": 0.37, "gridWidth": 1.4}},
    "y2": {"datum": 0}
   }},
  {"data": {"name": "y4"}, "mark": {"type": "rule", "color": "black", "strokeWidth": 1},
   "encoding": {
    "x": {"datum": 358.5, "type": "quantitative", "scale": {"domain": [0.5, 366.5], "nice": false, "zero": false}, "axis": null},
    "x2": {"datum": 366.5},
    "y": {"field": "v", "type": "quantitative", "scale": {"domain": [0, 3.25], "nice": false, "zero": false}, "axis": null}
   }},
  {"data": {"name": "m"}, "mark": {"type": "rule", "color": "black", "strokeWidth": 1},
   "encoding": {
    "x": {"field": "b", "type": "quantitative", "scale": {"domain": [0.5, 366.5], "nice": false, "zero": false},
      "axis": {"orient": "top", "values": [16,45.5,76,106.5,137,167.5,198,229,259.5,290,320.5,351], "labelExpr": "datum.value<30?'JAN':datum.value<60?'FEB':datum.value<90?'MAR':datum.value<120?'APR':datum.value<150?'MAY':datum.value<180?'JUN':datum.value<210?'JUL':datum.value<240?'AUG':datum.value<270?'SEP':datum.value<300?'OCT':datum.value<330?'NOV':'DEC'", "title": null, "labelFont": "Liberation Sans Narrow, Liberation Sans", "labelFontWeight": "bold", "labelFontSize": 13, "labelPadding": 9}},
    "y": {"datum": 3.25, "type": "quantitative", "scale": {"domain": [0, 3.25], "nice": false, "zero": false},
      "axis": {"orient": "right", "values": [0,0.25,0.5,0.75,1,1.25,1.5,1.75,2,2.25,2.5,2.75,3,3.25], "labelExpr": "datum.value == 0 ? '0.0' : format(datum.value, '.2f')", "title": null, "labelFont": "Liberation Sans Narrow, Liberation Sans", "labelFontSize": 13.5, "labelFontWeight": "bold", "labelPadding": 10}},
    "y2": {"datum": 3.062}
   }},
  {"data": {"name": "m"}, "mark": {"type": "rule", "color": "black", "strokeWidth": 1},
   "encoding": {
    "x": {"field": "b", "type": "quantitative", "scale": {"domain": [0.5, 366.5], "nice": false, "zero": false}, "axis": null},
    "y": {"datum": 0, "type": "quantitative", "scale": {"domain": [0, 3.25], "nice": false, "zero": false}, "axis": null},
    "y2": {"datum": 0.188}
   }}
 ],
 "resolve": {"axis": {"x": "independent", "y": "independent"}}
},
{
 "width": 368, "height": 225,
 "title": {"text": "DAILY SNOWFALL FOR 2000", "offset": 15},
 "layer": [
  {"data": {"name": "sf"}, "mark": {"type": "rule", "strokeWidth": 1.2, "color": "#1E8CF0"},
   "encoding": {
    "x": {"field": "d", "type": "quantitative", "scale": {"domain": [0.5, 366.5], "nice": false, "zero": false},
      "axis": {"orient": "bottom", "values": [16,45.5,76,106.5,137,167.5,198,229,259.5,290,320.5,351], "labelExpr": "datum.value<30?'JAN':datum.value<60?'FEB':datum.value<90?'MAR':datum.value<120?'APR':datum.value<150?'MAY':datum.value<180?'JUN':datum.value<210?'JUL':datum.value<240?'AUG':datum.value<270?'SEP':datum.value<300?'OCT':datum.value<330?'NOV':'DEC'", "title": null, "labelFont": "Liberation Sans Narrow, Liberation Sans", "labelFontWeight": "bold", "labelFontSize": 13, "labelPadding": 7}},
    "y": {"field": "v", "type": "quantitative", "scale": {"domain": [0, 20], "nice": false, "zero": false},
      "axis": {"orient": "left", "values": [0,1,2,3,4,5,6,7,8,9,10,11,12,13,14,15,16,17,18,19,20], "title": "DAILY SNOWFALL (IN.)", "titleFont": "Liberation Sans", "titleFontSize": 14, "titleFontWeight": "bold", "titleAngle": 270, "titleX": -46.7, "titleY": 102, "titleAlign": "center", "titleBaseline": "alphabetic", "labelFont": "Liberation Sans", "labelFontSize": 10, "labelFontWeight": "bold", "labelPadding": 11, "grid": true, "gridColor": "black", "gridDash": [1.5, 7.67], "gridDashOffset": 0.37, "gridWidth": 1.4}},
    "y2": {"datum": 0}
   }},
  {"data": {"name": "y5"}, "mark": {"type": "rule", "color": "black", "strokeWidth": 1},
   "encoding": {
    "x": {"datum": 358.5, "type": "quantitative", "scale": {"domain": [0.5, 366.5], "nice": false, "zero": false}, "axis": null},
    "x2": {"datum": 366.5},
    "y": {"field": "v", "type": "quantitative", "scale": {"domain": [0, 20], "nice": false, "zero": false}, "axis": null}
   }},
  {"data": {"name": "m"}, "mark": {"type": "rule", "color": "black", "strokeWidth": 1},
   "encoding": {
    "x": {"field": "b", "type": "quantitative", "scale": {"domain": [0.5, 366.5], "nice": false, "zero": false},
      "axis": {"orient": "top", "values": [16,45.5,76,106.5,137,167.5,198,229,259.5,290,320.5,351], "labelExpr": "datum.value<30?'JAN':datum.value<60?'FEB':datum.value<90?'MAR':datum.value<120?'APR':datum.value<150?'MAY':datum.value<180?'JUN':datum.value<210?'JUL':datum.value<240?'AUG':datum.value<270?'SEP':datum.value<300?'OCT':datum.value<330?'NOV':'DEC'", "title": null, "labelFont": "Liberation Sans Narrow, Liberation Sans", "labelFontWeight": "bold", "labelFontSize": 13, "labelPadding": 4}},
    "y": {"datum": 20, "type": "quantitative", "scale": {"domain": [0, 20], "nice": false, "zero": false},
      "axis": {"orient": "right", "values": [0,1,2,3,4,5,6,7,8,9,10,11,12,13,14,15,16,17,18,19,20], "title": null, "labelFont": "Liberation Sans", "labelFontSize": 10, "labelFontWeight": "bold", "labelPadding": 7}},
    "y2": {"datum": 18.84}
   }},
  {"data": {"name": "m"}, "mark": {"type": "rule", "color": "black", "strokeWidth": 1},
   "encoding": {
    "x": {"field": "b", "type": "quantitative", "scale": {"domain": [0.5, 366.5], "nice": false, "zero": false}, "axis": null},
    "y": {"datum": 0, "type": "quantitative", "scale": {"domain": [0, 20], "nice": false, "zero": false}, "axis": null},
    "y2": {"datum": 1.16}
   }}
 ],
 "resolve": {"axis": {"x": "independent", "y": "independent"}}
},
{
 "width": 368, "height": 225,
 "title": {"text": "DAILY SNOW DEPTH FOR 2000", "offset": 10.2},
 "layer": [
  {"data": {"name": "sd"}, "mark": {"type": "rule", "strokeWidth": 1.3, "color": "#0080C0"},
   "encoding": {
    "x": {"field": "d", "type": "quantitative", "scale": {"domain": [0.5, 366.5], "nice": false, "zero": false},
      "axis": {"orient": "bottom", "values": [16,45.5,76,106.5,137,167.5,198,229,259.5,290,320.5,351], "labelExpr": "datum.value<30?'JAN':datum.value<60?'FEB':datum.value<90?'MAR':datum.value<120?'APR':datum.value<150?'MAY':datum.value<180?'JUN':datum.value<210?'JUL':datum.value<240?'AUG':datum.value<270?'SEP':datum.value<300?'OCT':datum.value<330?'NOV':'DEC'", "title": null, "labelFont": "Liberation Sans Narrow, Liberation Sans", "labelFontWeight": "bold", "labelFontSize": 13, "labelPadding": 9}},
    "y": {"field": "v", "type": "quantitative", "scale": {"domain": [0, 24], "nice": false, "zero": false},
      "axis": {"orient": "left", "values": [0,1,2,3,4,5,6,7,8,9,10,11,12,13,14,15,16,17,18,19,20,21,22,23,24], "title": "SNOW DEPTH (IN.)", "titleFont": "Liberation Sans", "titleFontSize": 14, "titleFontWeight": "bold", "titleAngle": 270, "titleX": -46.7, "titleY": 100.5, "titleAlign": "center", "titleBaseline": "alphabetic", "labelFont": "Liberation Sans", "labelFontSize": 10, "labelFontWeight": "normal", "labelPadding": 9, "grid": true, "gridColor": "black", "gridDash": [1.5, 7.67], "gridDashOffset": 0.37, "gridWidth": 1.4}},
    "y2": {"datum": 0}
   }},
  {"data": {"name": "y6"}, "mark": {"type": "rule", "color": "black", "strokeWidth": 1},
   "encoding": {
    "x": {"datum": 358.5, "type": "quantitative", "scale": {"domain": [0.5, 366.5], "nice": false, "zero": false}, "axis": null},
    "x2": {"datum": 366.5},
    "y": {"field": "v", "type": "quantitative", "scale": {"domain": [0, 24], "nice": false, "zero": false}, "axis": null}
   }},
  {"data": {"name": "m"}, "mark": {"type": "rule", "color": "black", "strokeWidth": 1},
   "encoding": {
    "x": {"field": "b", "type": "quantitative", "scale": {"domain": [0.5, 366.5], "nice": false, "zero": false},
      "axis": {"orient": "top", "values": [16,45.5,76,106.5,137,167.5,198,229,259.5,290,320.5,351], "labelExpr": "datum.value<30?'JAN':datum.value<60?'FEB':datum.value<90?'MAR':datum.value<120?'APR':datum.value<150?'MAY':datum.value<180?'JUN':datum.value<210?'JUL':datum.value<240?'AUG':datum.value<270?'SEP':datum.value<300?'OCT':datum.value<330?'NOV':'DEC'", "title": null, "labelFont": "Liberation Sans Narrow, Liberation Sans", "labelFontWeight": "bold", "labelFontSize": 13, "labelPadding": 9}},
    "y": {"datum": 24, "type": "quantitative", "scale": {"domain": [0, 24], "nice": false, "zero": false},
      "axis": {"orient": "right", "values": [0,1,2,3,4,5,6,7,8,9,10,11,12,13,14,15,16,17,18,19,20,21,22,23,24], "title": null, "labelFont": "Liberation Sans", "labelFontSize": 10, "labelFontWeight": "normal", "labelPadding": 7}},
    "y2": {"datum": 22.61}
   }},
  {"data": {"name": "m"}, "mark": {"type": "rule", "color": "black", "strokeWidth": 1},
   "encoding": {
    "x": {"field": "b", "type": "quantitative", "scale": {"domain": [0.5, 366.5], "nice": false, "zero": false}, "axis": null},
    "y": {"datum": 0, "type": "quantitative", "scale": {"domain": [0, 24], "nice": false, "zero": false}, "axis": null},
    "y2": {"datum": 1.39}
   }}
 ],
 "resolve": {"axis": {"x": "independent", "y": "independent"}}
}
],
"spacing": 88,
"bounds": "flush"
}
